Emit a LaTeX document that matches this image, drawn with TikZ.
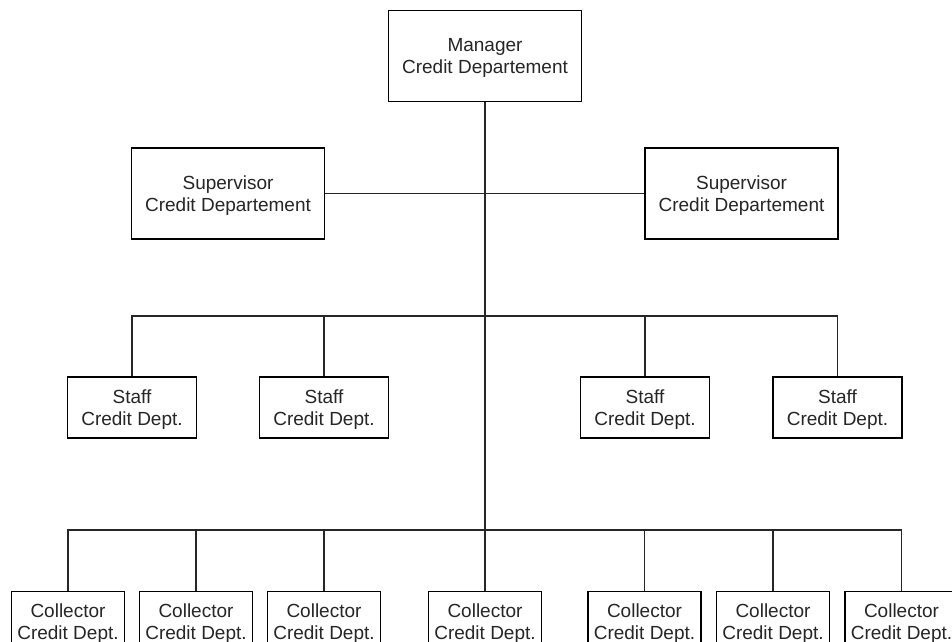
\documentclass[tikz,border=0pt]{standalone}
\usepackage{fontspec}
\setmainfont{Liberation Sans}
\newcommand\boxtxt[2]{\begin{tabular}{@{}c@{}}\rule{0pt}{19.7pt}#1\\#2\end{tabular}}
\begin{document}
\begin{tikzpicture}[x=1pt,y=-1pt,
  box/.style={draw=black,line width=1.1pt,fill=white,inner sep=0pt,
    font=\fontsize{19}{22}\selectfont,text=black!85},
  bigbox/.style={box,minimum width=193pt,minimum height=91pt},
  staffbox/.style={box,minimum width=129pt,minimum height=61pt},
  colbox/.style={box,minimum width=113pt,minimum height=61pt},
  conn/.style={draw=black!85,line width=1.1pt}]
\useasboundingbox[fill=white] (0,0) rectangle (952,641);
\renewcommand\arraystretch{1}
\setlength\tabcolsep{0pt}
% nodes
\node[bigbox] (mgr) at (485,56) {\boxtxt{Manager}{Credit Departement}};
\node[bigbox] (sup1) at (228,193.5) {\boxtxt{Supervisor}{Credit Departement}};
\node[bigbox] (sup2) at (741.5,193.5) {\boxtxt{Supervisor}{Credit Departement}};
\node[staffbox] (st1) at (132,407.5) {\boxtxt{Staff}{Credit Dept.}};
\node[staffbox] (st2) at (324,407.5) {\boxtxt{Staff}{Credit Dept.}};
\node[staffbox] (st3) at (645,407.5) {\boxtxt{Staff}{Credit Dept.}};
\node[staffbox] (st4) at (837.5,407.5) {\boxtxt{Staff}{Credit Dept.}};
\node[colbox] (c1) at (68,622) {\boxtxt{Collector}{Credit Dept.}};
\node[colbox] (c2) at (196,622) {\boxtxt{Collector}{Credit Dept.}};
\node[colbox] (c3) at (324,622) {\boxtxt{Collector}{Credit Dept.}};
\node[colbox] (c4) at (485,622) {\boxtxt{Collector}{Credit Dept.}};
\node[colbox] (c5) at (644.5,622) {\boxtxt{Collector}{Credit Dept.}};
\node[colbox] (c6) at (773,622) {\boxtxt{Collector}{Credit Dept.}};
\node[colbox] (c7) at (901.5,622) {\boxtxt{Collector}{Credit Dept.}};
\coordinate (sbus) at (485,316);
\coordinate (cbus) at (485,530);
% connectors
\draw[conn] (mgr.south) -- (c4.north);
\draw[conn] (sup1.east) -- (sup2.west);
\draw[conn] (st1.north) |- (sbus) -| (st4.north);
\draw[conn] (st2.north) -- (st2.north |- sbus);
\draw[conn] (st3.north) -- (st3.north |- sbus);
\draw[conn] (c1.north) |- (cbus) -| (c7.north);
\foreach \n in {c2,c3,c5,c6} \draw[conn] (\n.north) -- (\n.north |- cbus);
\end{tikzpicture}
\end{document}
